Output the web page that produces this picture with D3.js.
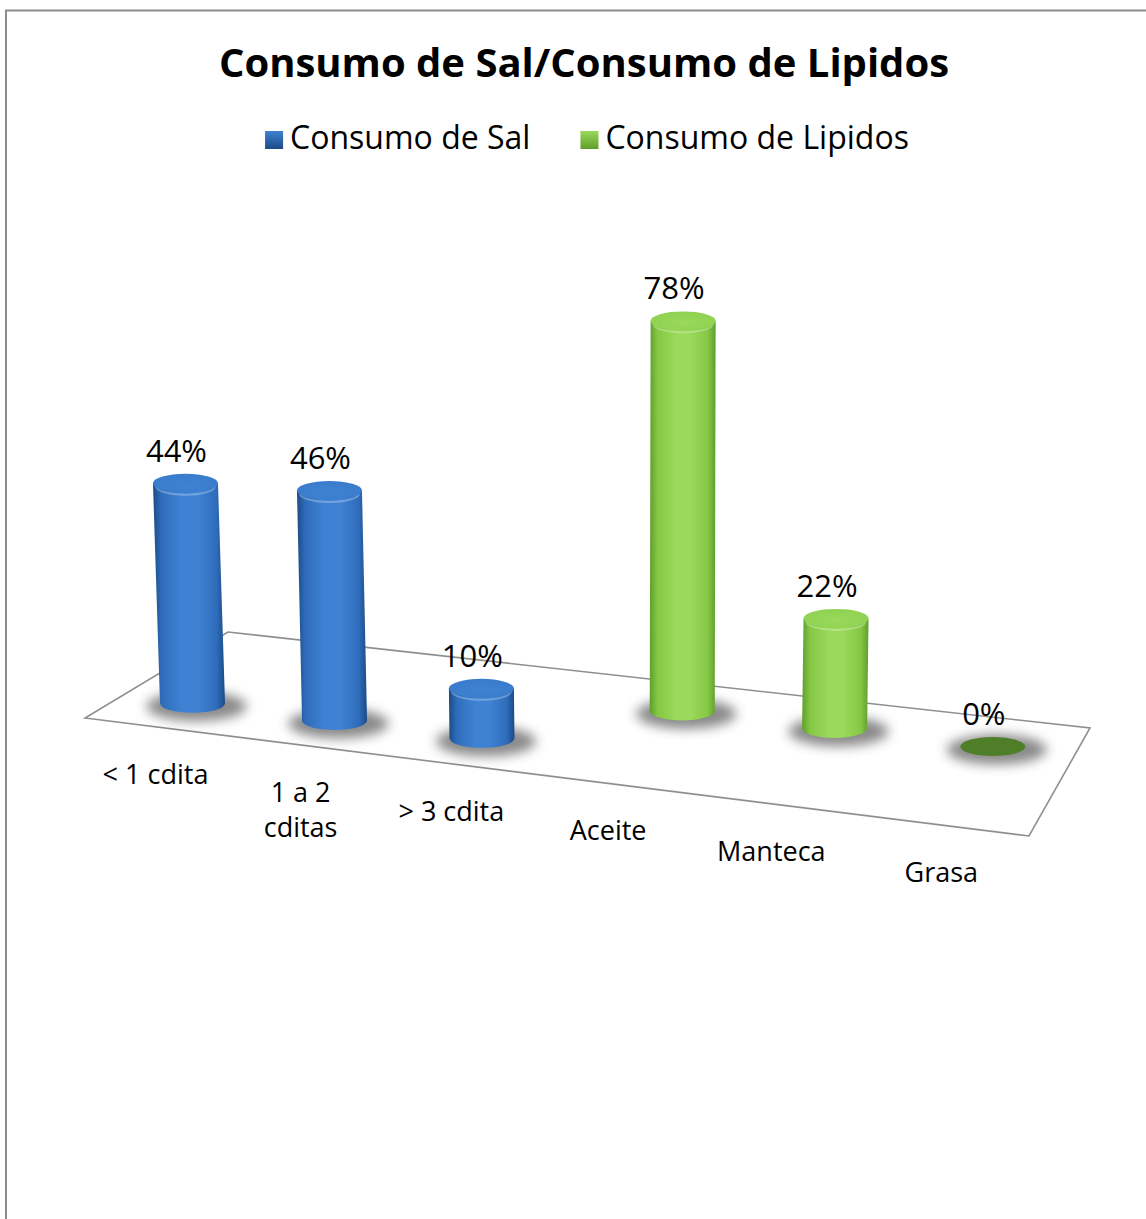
<!DOCTYPE html>
<head>
  <meta charset="utf-8">
  <script src="https://d3js.org/d3.v7.min.js"></script>
  <style>
    body { margin:0; background:white; }
    svg { background: white; }
    text { font-family: "Open Sans", sans-serif; fill: #000; }
  </style>
</head>

<body>
  <script>
    // chart data
    var categories = ["< 1 cdita", "1 a 2 cditas", "> 3 cdita", "Aceite", "Manteca", "Grasa"];
    var series = ["Consumo de Sal", "Consumo de Lipidos"];
    var salValues = [0.44, 0.46, 0.10, null, null, null];
    var lipidosValues = [null, null, null, 0.78, 0.22, 0.00];
    var seriesValues = [salValues, lipidosValues];
    var titleText = "Consumo de Sal/Consumo de Lipidos";

    var width = 1146;
    var height = 1219;

    var svg = d3.select("body").append("svg")
      .attr("width", width)
      .attr("height", height);

    var defs = svg.append("defs");

    // colours per series
    var palette = {
      "Consumo de Sal": { dark: "#1c4a86", mid: "#2f6dbb", light: "#3f82d3", cap: "#3a7ccb", zero: "#234f8c" },
      "Consumo de Lipidos": { dark: "#5f9e2b", mid: "#86c846", light: "#9ad95a", cap: "#8fd150", zero: "#4f7e28" }
    };

    series.forEach(function(s, i) {
      var c = palette[s];
      var g = defs.append("linearGradient").attr("id", "body" + i)
        .attr("x1", 0).attr("y1", 0).attr("x2", 1).attr("y2", 0);
      g.append("stop").attr("offset", "0%").attr("stop-color", c.dark);
      g.append("stop").attr("offset", "12%").attr("stop-color", c.mid);
      g.append("stop").attr("offset", "40%").attr("stop-color", c.light);
      g.append("stop").attr("offset", "62%").attr("stop-color", c.light);
      g.append("stop").attr("offset", "88%").attr("stop-color", c.mid);
      g.append("stop").attr("offset", "100%").attr("stop-color", c.dark);

      var cg = defs.append("radialGradient").attr("id", "cap" + i)
        .attr("cx", "50%").attr("cy", "60%").attr("r", "60%");
      cg.append("stop").attr("offset", "0%").attr("stop-color", c.light);
      cg.append("stop").attr("offset", "100%").attr("stop-color", c.cap);

      var lg = defs.append("linearGradient").attr("id", "key" + i)
        .attr("x1", 0).attr("y1", 0).attr("x2", 0).attr("y2", 1);
      lg.append("stop").attr("offset", "0%").attr("stop-color", c.light);
      lg.append("stop").attr("offset", "100%").attr("stop-color", c.dark);
    });

    defs.append("filter").attr("id", "blur")
      .attr("x", "-50%").attr("y", "-80%").attr("width", "200%").attr("height", "260%")
      .append("feGaussianBlur").attr("stdDeviation", 6);

    // outer frame
    svg.append("rect")
      .attr("x", 6).attr("y", 10.5)
      .attr("width", 1160).attr("height", 1230)
      .attr("fill", "none")
      .attr("stroke", "#8c8c8c")
      .attr("stroke-width", 2);

    // title
    svg.append("text")
      .attr("x", 584).attr("y", 77)
      .attr("text-anchor", "middle")
      .style("font-size", "40px")
      .style("font-weight", "bold")
      .text(titleText);

    // floor: perspective map of unit square (u along categories, w in depth)
    var floorFL = [85, 718], floorFR = [1029, 836], floorBR = [1090, 728], floorBL = [228, 632];

    function squareToQuad(p0, p1, p2, p3) {
      var dx1 = p1[0] - p2[0], dx2 = p3[0] - p2[0], dx3 = p0[0] - p1[0] + p2[0] - p3[0];
      var dy1 = p1[1] - p2[1], dy2 = p3[1] - p2[1], dy3 = p0[1] - p1[1] + p2[1] - p3[1];
      var det = dx1 * dy2 - dx2 * dy1;
      var g = (dx3 * dy2 - dx2 * dy3) / det;
      var h = (dx1 * dy3 - dx3 * dy1) / det;
      var a = p1[0] - p0[0] + g * p1[0], b = p3[0] - p0[0] + h * p3[0], c = p0[0];
      var d = p1[1] - p0[1] + g * p1[1], e = p3[1] - p0[1] + h * p3[1], f = p0[1];
      return function(u, w) {
        var z = g * u + h * w + 1;
        return [(a * u + b * w + c) / z, (d * u + e * w + f) / z];
      };
    }
    var project = squareToQuad(floorFL, floorFR, floorBR, floorBL);

    var uScale = d3.scaleBand().domain(categories).range([0, 1]);
    var wScale = d3.scalePoint().domain(series).range([0.25, 0.72]);
    var hScale = d3.scaleLinear().domain([0, 1]).range([0, 500]);
    var fmt = d3.format(".0%");

    var floorPts = [[0, 0], [1, 0], [1, 1], [0, 1]].map(function(p) { return project(p[0], p[1]); });
    svg.append("path")
      .attr("d", d3.line()(floorPts) + "Z")
      .attr("fill", "none")
      .attr("stroke", "#8f8f8f")
      .attr("stroke-width", 1.6);

    // bars
    var bars = [];
    series.forEach(function(s, si) {
      seriesValues[si].forEach(function(v, ci) {
        if (v === null) return;
        var base = project(uScale(categories[ci]) + uScale.bandwidth() / 2, wScale(s));
        var h = hScale(v);
        var lean = (base[0] - 650) * h * 0.00007;
        bars.push({ series: s, si: si, cat: categories[ci], value: v,
          bx: base[0], by: base[1], tx: base[0] + lean, ty: base[1] - h, h: h });
      });
    });

    var rx = 32.5, ry = 9.5;

    var barG = svg.append("g").attr("class", "bars");

    barG.selectAll(".shadow")
      .data(bars)
      .enter()
      .append("ellipse")
      .attr("class", "shadow")
      .attr("cx", function(d) { return d.bx + 4; })
      .attr("cy", function(d) { return d.by + 3; })
      .attr("rx", 50)
      .attr("ry", 15)
      .attr("fill", "#3a3a3a")
      .attr("opacity", 0.6)
      .attr("filter", "url(#blur)");

    var cyl = barG.selectAll(".cyl")
      .data(bars)
      .enter()
      .append("g")
      .attr("class", "cyl");

    cyl.filter(function(d) { return d.h > 1; })
      .append("path")
      .attr("d", function(d) {
        return "M" + (d.tx - rx) + "," + d.ty +
          "L" + (d.bx - rx) + "," + d.by +
          "A" + rx + "," + ry + " 0 0 0 " + (d.bx + rx) + "," + d.by +
          "L" + (d.tx + rx) + "," + d.ty + "Z";
      })
      .attr("fill", function(d) { return "url(#body" + d.si + ")"; });

    // subtle rim under the cap
    cyl.filter(function(d) { return d.h > 1; })
      .append("path")
      .attr("d", function(d) {
        return "M" + (d.tx - rx + 3) + "," + (d.ty + 3) +
          "A" + (rx - 3) + "," + (ry - 1) + " 0 0 0 " + (d.tx + rx - 3) + "," + (d.ty + 3);
      })
      .attr("fill", "none")
      .attr("stroke", "rgba(255,255,255,0.28)")
      .attr("stroke-width", 2);

    cyl.append("ellipse")
      .attr("cx", function(d) { return d.tx; })
      .attr("cy", function(d) { return d.ty; })
      .attr("rx", rx)
      .attr("ry", ry)
      .attr("fill", function(d) { return d.h > 1 ? "url(#cap" + d.si + ")" : palette[d.series].zero; });

    // value labels
    barG.selectAll(".vlabel")
      .data(bars)
      .enter()
      .append("text")
      .attr("class", "vlabel")
      .attr("x", function(d) { return d.tx - 9; })
      .attr("y", function(d) { return d.ty - ry - 12; })
      .attr("text-anchor", "middle")
      .style("font-size", "31px")
      .text(function(d) { return fmt(d.value); });

    // category labels under the front edge, wrapped like the original
    var catG = svg.append("g").attr("class", "categories");
    categories.forEach(function(c) {
      var p = project(uScale(c) + uScale.bandwidth() / 2, 0);
      var t = catG.append("text")
        .attr("x", p[0])
        .attr("y", p[1] + 57)
        .attr("text-anchor", "middle")
        .style("font-size", "27px");
      var words = c.split(" ");
      var line = [];
      var lineNo = 0;
      var tspan = t.append("tspan").attr("x", p[0]).attr("dy", 0);
      words.forEach(function(wd) {
        line.push(wd);
        tspan.text(line.join(" "));
        if (tspan.node().getComputedTextLength() > 130 && line.length > 1) {
          line.pop();
          tspan.text(line.join(" "));
          line = [wd];
          lineNo++;
          tspan = t.append("tspan").attr("x", p[0]).attr("dy", 35).text(wd);
        }
      });
    });

    // legend
    var legend = svg.append("g").attr("class", "legend");
    var xpos = 0;
    series.forEach(function(s, i) {
      var item = legend.append("g").attr("transform", "translate(" + xpos + ",0)");
      item.append("rect")
        .attr("x", 0).attr("y", -18)
        .attr("width", 18).attr("height", 18)
        .attr("fill", "url(#key" + i + ")");
      var t = item.append("text")
        .attr("x", 25).attr("y", 0)
        .style("font-size", "32px")
        .text(s);
      xpos += 25 + t.node().getComputedTextLength() + 50;
    });
    var legendW = xpos - 50;
    legend.attr("transform", "translate(" + (587 - legendW / 2) + ",149)");

  </script>
</body>
